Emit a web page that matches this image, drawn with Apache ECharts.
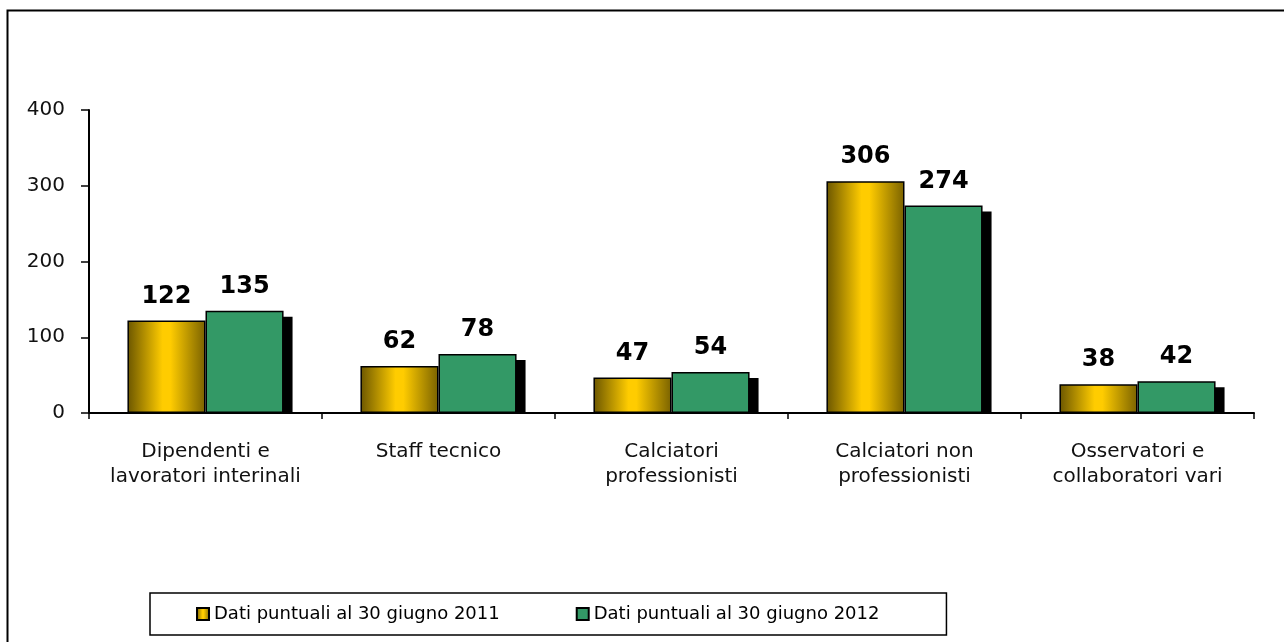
<!DOCTYPE html>
<html>
<head>
<meta charset="utf-8">
<script src="https://cdn.jsdelivr.net/npm/echarts@6/dist/echarts.min.js"></script>
<style>html,body{margin:0;padding:0;background:#fff}#c{width:1284px;height:642px}</style>
</head>
<body>
<div id="c"></div>
<script>
const categories = ['Dipendenti e\nlavoratori interinali', 'Staff tecnico', 'Calciatori\nprofessionisti', 'Calciatori non\nprofessionisti', 'Osservatori e\ncollaboratori vari'];
const series2011 = [122, 62, 47, 306, 38];
const series2012 = [135, 78, 54, 274, 42];
const yTicks = [0, 100, 200, 300, 400];
const seriesNames = ['Dati puntuali al 30 giugno 2011', 'Dati puntuali al 30 giugno 2012'];

const FONT = 'DejaVu Sans, Verdana, sans-serif';
const CAT_GAP = 0.33;

const chart = echarts.init(document.getElementById('c'), null, {renderer: 'canvas'});
const gold = new echarts.graphic.LinearGradient(0, 0, 1, 0, [
  {offset: 0, color: '#6b5600'},
  {offset: 0.45, color: '#ffcc00'},
  {offset: 0.55, color: '#ffcc00'},
  {offset: 1, color: '#7a6200'}
]);

chart.setOption({
  animation: false,
  backgroundColor: '#fff',
  graphic: [{
    type: 'rect', left: 5, top: 8, silent: true, z: 0,
    shape: {width: 1300, height: 700},
    style: {fill: 'none', stroke: '#000', lineWidth: 2}
  }],
  grid: {left: 89, right: 30, top: 110, bottom: 229},
  legend: {
    left: 150, top: 593,
    data: seriesNames,
    icon: 'rect',
    itemWidth: 12, itemHeight: 12, itemGap: 76,
    padding: [12, 67, 12, 46],
    borderColor: '#000', borderWidth: 1.5,
    textStyle: {fontFamily: FONT, fontSize: 18, color: '#000'}
  },
  xAxis: {
    type: 'category',
    data: categories,
    axisLine: {lineStyle: {color: '#000', width: 2}},
    axisTick: {show: true, length: 6, lineStyle: {color: '#000', width: 1.5}},
    axisLabel: {interval: 0, fontFamily: FONT, fontSize: 20, color: '#111', lineHeight: 25, margin: 26}
  },
  yAxis: {
    type: 'value', min: yTicks[0], max: yTicks[yTicks.length - 1], interval: 100,
    axisLine: {show: true, lineStyle: {color: '#000', width: 2}},
    axisTick: {show: true, length: 8, lineStyle: {color: '#000', width: 1.5}},
    splitLine: {show: false},
    axisLabel: {fontFamily: FONT, fontSize: 20, color: '#111', margin: 24}
  },
  series: [
    {
      type: 'custom',
      z: 1,
      silent: true,
      renderItem: function (params, api) {
        const idx = api.value(0), val = api.value(1);
        const top = api.coord([idx, val]);
        const base = api.coord([idx, 0]);
        const band = api.size([1, 0])[0];
        const bw = band * (1 - CAT_GAP) / 2;
        return {
          type: 'rect',
          shape: {x: top[0] + 9, y: top[1] + 6, width: bw, height: base[1] - top[1] - 6},
          style: {fill: '#000'}
        };
      },
      encode: {x: 0, y: 1},
      data: series2012.map((v, i) => [i, v])
    },
    {
      name: seriesNames[0], type: 'bar', z: 2,
      barGap: '0%', barCategoryGap: (CAT_GAP * 100) + '%',
      data: series2011,
      itemStyle: {color: gold, borderColor: '#000', borderWidth: 1.5},
      label: {show: true, position: 'top', distance: 12, fontFamily: FONT, fontSize: 24, fontWeight: 'bold', color: '#000'}
    },
    {
      name: seriesNames[1], type: 'bar', z: 2,
      barGap: '0%', barCategoryGap: (CAT_GAP * 100) + '%',
      data: series2012,
      itemStyle: {color: '#339966', borderColor: '#000', borderWidth: 1.5},
      label: {show: true, position: 'top', distance: 12, fontFamily: FONT, fontSize: 24, fontWeight: 'bold', color: '#000'}
    }
  ]
});
</script>
</body>
</html>
